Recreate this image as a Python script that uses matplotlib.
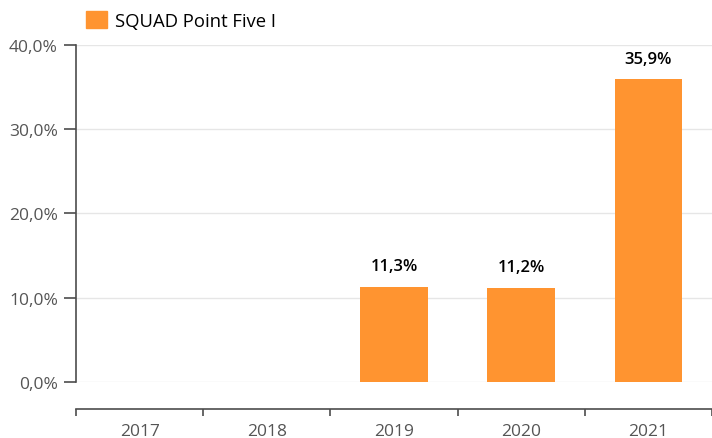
import matplotlib
matplotlib.use("Agg")
import matplotlib.pyplot as plt
import numpy as np
from matplotlib.patches import Patch

categories = ["2017", "2018", "2019", "2020", "2021"]
values = [np.nan, np.nan, 11.3, 11.2, 35.9]
series_name = "SQUAD Point Five I"
y_ticks = [0, 10, 20, 30, 40]

plt.rcParams['font.family'] = ['Open Sans', 'DejaVu Sans']

BAR = "#FF9430"
AXC = "#4D4D4D"
TXT = "#555555"

fig = plt.figure(figsize=(7.12, 4.39), dpi=100)
ax = fig.add_axes([76/712, 1-383/439, (712-76)/712, (383-45.5)/439])

x = np.arange(len(categories))
ax.bar(x, values, width=0.53, color=BAR, zorder=3)
for xi, v in zip(x, values):
    if not np.isnan(v):
        ax.annotate(f"{v:.1f}".replace(".", ",") + "%", (xi, v), xytext=(0, 9),
                    textcoords="offset points", ha="center", va="bottom",
                    fontsize=12, fontweight="semibold", color="black")

ax.set_xlim(-0.5, len(categories) - 0.5)
ax.set_ylim(0, 40)
ax.set_yticks(y_ticks)
ax.set_yticklabels([f"{t:.1f}".replace(".", ",") + "%" for t in y_ticks])
ax.yaxis.grid(True, color="#E6E6E6", linewidth=1, zorder=0)
ax.set_axisbelow(True)

ax.set_xticks(np.arange(-0.5, len(categories)), minor=False)
ax.set_xticklabels([])
ax.set_xticks(x, minor=True)
ax.set_xticklabels(categories, minor=True)
ax.tick_params(axis="x", which="major", length=5, width=1.2, color=AXC, direction="out")
ax.tick_params(axis="x", which="minor", length=0, pad=10, labelsize=12.5, labelcolor=TXT)
ax.tick_params(axis="y", length=9, width=1.2, color=AXC, labelsize=12.5, labelcolor=TXT, pad=4)

for s in ["top", "right"]:
    ax.spines[s].set_visible(False)
ax.spines["left"].set_color(AXC)
ax.spines["left"].set_linewidth(1.2)
ax.spines["bottom"].set_color(AXC)
ax.spines["bottom"].set_linewidth(1.2)
ax.spines["bottom"].set_position(("outward", 19.5))

leg = fig.legend(handles=[Patch(color=BAR, label=series_name)], loc="upper left",
                 bbox_to_anchor=(74/712, 1.0), frameon=False, fontsize=13.3,
                 handlelength=1.15, handleheight=1.0, handletextpad=0.4, borderaxespad=0.25)

fig.savefig("out.png", dpi=100)
